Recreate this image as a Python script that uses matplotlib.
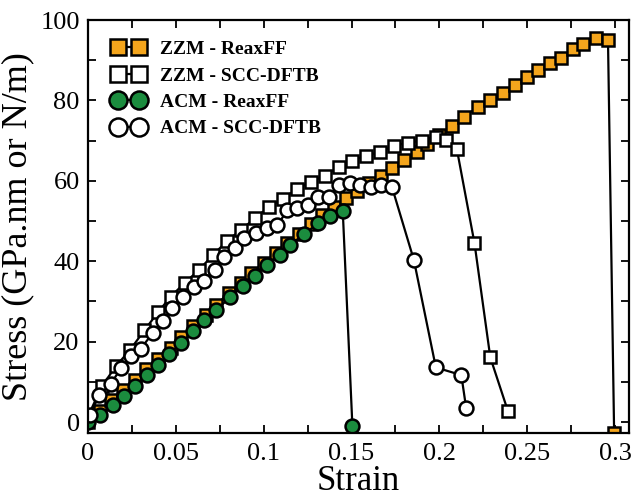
import numpy as np
from matplotlib import pyplot as plt
from matplotlib.ticker import MultipleLocator, FormatStrFormatter

# ZZM - ReaxFF (orange squares)
zzm_reax_x = [0.000, 0.007, 0.013, 0.020, 0.027, 0.033, 0.040, 0.047, 0.053, 0.060,
              0.067, 0.073, 0.080, 0.087, 0.093, 0.100, 0.107, 0.113, 0.120, 0.127,
              0.133, 0.140, 0.147, 0.153, 0.160, 0.167, 0.173, 0.180, 0.187, 0.193,
              0.200, 0.207, 0.214, 0.222, 0.229, 0.236, 0.243, 0.250, 0.256, 0.263,
              0.269, 0.276, 0.282, 0.289, 0.296, 0.2995]
zzm_reax_y = [0.0, 2.8, 5.4, 8.0, 10.6, 13.2, 15.8, 18.5, 21.1, 23.8,
              26.6, 29.2, 32.0, 34.5, 37.0, 39.6, 42.0, 44.5, 46.8, 49.2,
              51.4, 53.6, 55.8, 57.6, 59.4, 61.3, 63.2, 65.2, 67.2, 69.2,
              71.3, 73.6, 76.0, 78.3, 80.1, 81.9, 83.8, 85.9, 87.6, 89.4,
              90.6, 92.7, 94.0, 95.5, 95.0, -2.8]

# ZZM - SCC-DFTB (open squares)
zzm_dftb_x = [0.000, 0.008, 0.016, 0.024, 0.032, 0.040, 0.047, 0.055, 0.063, 0.071,
              0.079, 0.087, 0.095, 0.103, 0.111, 0.119, 0.127, 0.135, 0.143, 0.150,
              0.158, 0.166, 0.174, 0.182, 0.190, 0.198, 0.204, 0.210, 0.220, 0.229,
              0.239]
zzm_dftb_y = [1.5, 9.0, 14.0, 18.0, 22.8, 27.4, 31.2, 34.6, 37.8, 41.5,
              45.0, 47.8, 50.7, 53.5, 55.6, 58.0, 59.8, 61.3, 63.5, 65.0,
              66.2, 67.2, 68.7, 69.5, 70.0, 71.0, 70.2, 67.8, 44.5, 16.1,
              2.8]

# ACM - ReaxFF (green circles)
acm_reax_x = [0.000, 0.007, 0.014, 0.0205, 0.027, 0.0335, 0.040, 0.046, 0.053, 0.060,
              0.066, 0.073, 0.081, 0.088, 0.095, 0.102, 0.109, 0.115, 0.123, 0.131,
              0.138, 0.145, 0.1505]
acm_reax_y = [0.0, 1.8, 4.2, 6.6, 9.1, 11.7, 14.2, 16.9, 19.6, 22.6,
              25.3, 28.0, 31.0, 33.8, 36.4, 39.0, 41.6, 44.0, 46.8, 49.4,
              51.2, 52.6, -1.0]

# ACM - SCC-DFTB (open circles)
acm_dftb_x = [0.001, 0.0064, 0.013, 0.0188, 0.0244, 0.030, 0.0368, 0.0424, 0.048, 0.054,
              0.0604, 0.066, 0.072, 0.0775, 0.0835, 0.089, 0.0955, 0.1017, 0.1078, 0.1135,
              0.119, 0.125, 0.131, 0.137, 0.143, 0.149, 0.155, 0.161, 0.167, 0.173,
              0.1855, 0.198, 0.2125, 0.2153]
acm_dftb_y = [1.7, 6.7, 9.6, 13.4, 16.4, 18.3, 22.1, 25.2, 28.3, 31.2,
              33.7, 35.2, 37.8, 41.1, 43.2, 45.7, 47.1, 48.2, 49.0, 52.7,
              53.2, 54.0, 56.0, 56.0, 59.0, 59.5, 59.0, 58.4, 59.0, 58.5,
              40.3, 13.6, 11.7, 3.4]

orange = '#F4A51C'
green = '#1B8C3E'

plt.rcParams['font.family'] = 'Liberation Serif'

fig = plt.figure(figsize=(6.38, 5), dpi=100)
ax = fig.add_axes([0.138, 0.134, 0.848, 0.826])

style = dict(color='black', lw=1.6, mew=1.8, mec='black')
ax.plot(zzm_reax_x, zzm_reax_y, marker='s', ms=9, mfc=orange, label='ZZM - ReaxFF', **style)
ax.plot(zzm_dftb_x, zzm_dftb_y, marker='s', ms=9, mfc='white', label='ZZM - SCC-DFTB', **style)
ax.plot(acm_reax_x, acm_reax_y, marker='o', ms=10, mfc=green, label='ACM - ReaxFF', **style)
ax.plot(acm_dftb_x, acm_dftb_y, marker='o', ms=10, mfc='white', label='ACM - SCC-DFTB', **style)

ax.set_xlim(0, 0.308)
ax.set_ylim(-2.7, 100)
ax.xaxis.set_major_locator(MultipleLocator(0.05))
ax.xaxis.set_minor_locator(MultipleLocator(0.025))
ax.yaxis.set_major_locator(MultipleLocator(20))
ax.yaxis.set_minor_locator(MultipleLocator(10))
ax.xaxis.set_major_formatter(FormatStrFormatter('%g'))
ax.tick_params(which='both', direction='in', top=True, right=True, width=1.3,
               labelsize=19, colors='black', pad=7)
ax.tick_params(axis='y', pad=6)
ax.tick_params(which='major', length=6)
ax.tick_params(which='minor', length=6)
for s in ax.spines.values():
    s.set_linewidth(1.6)

ax.set_xlabel('Strain', fontsize=25, labelpad=0)
ax.set_ylabel('Stress (GPa.nm or N/m)', fontsize=26, labelpad=4)

ax.legend(loc='upper left', bbox_to_anchor=(0.044, 0.95), frameon=False,
          borderpad=0, borderaxespad=0, numpoints=2, handlelength=1.7,
          handletextpad=0.8, labelspacing=0.45, markerscale=1.3,
          prop={'weight': 'bold', 'size': 14})

plt.savefig('out.png', dpi=100)
